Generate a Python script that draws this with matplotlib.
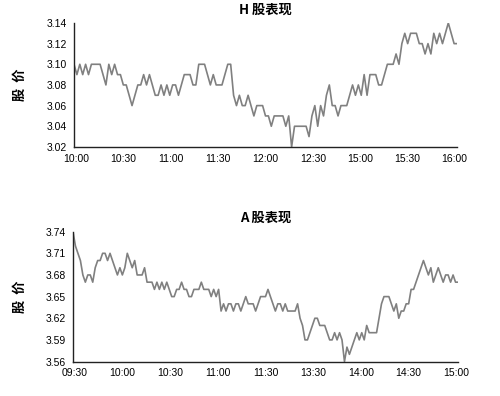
import numpy as np
import matplotlib
matplotlib.use('Agg')
import matplotlib.pyplot as plt

plt.rcParams['font.family'] = ['Liberation Sans', 'Noto Sans CJK SC', 'DejaVu Sans']

########################################################
# H shares (HKD)
h_price = [3.10, 3.09, 3.10, 3.09, 3.10, 3.09, 3.10, 3.10, 3.10, 3.10,
           3.09, 3.08, 3.10, 3.09, 3.10, 3.09, 3.09, 3.08, 3.08, 3.07,
           3.06, 3.07, 3.08, 3.08, 3.09, 3.08, 3.09, 3.08, 3.07, 3.07,
           3.08, 3.07, 3.08, 3.07, 3.08, 3.08, 3.07, 3.08, 3.09, 3.09,
           3.09, 3.08, 3.08, 3.10, 3.10, 3.10, 3.09, 3.08, 3.09, 3.08,
           3.08, 3.08, 3.09, 3.10, 3.10, 3.07, 3.06, 3.07, 3.06, 3.06,
           3.07, 3.06, 3.05, 3.06, 3.06, 3.06, 3.05, 3.05, 3.04, 3.05,
           3.05, 3.05, 3.05, 3.04, 3.05, 3.02, 3.04, 3.04, 3.04, 3.04,
           3.04, 3.03, 3.05, 3.06, 3.04, 3.06, 3.05, 3.07, 3.08, 3.06,
           3.06, 3.05, 3.06, 3.06, 3.06, 3.07, 3.08, 3.07, 3.08, 3.07,
           3.09, 3.07, 3.09, 3.09, 3.09, 3.08, 3.08, 3.09, 3.10, 3.10,
           3.10, 3.11, 3.10, 3.12, 3.13, 3.12, 3.13, 3.13, 3.13, 3.12,
           3.12, 3.11, 3.12, 3.11, 3.13, 3.12, 3.13, 3.12, 3.13, 3.14,
           3.13, 3.12, 3.12]
h_labels = ['10:00', '10:30', '11:00', '11:30', '12:00', '12:30', '15:00', '15:30', '16:00']
h_yticks = [3.02, 3.04, 3.06, 3.08, 3.10, 3.12, 3.14]

# A shares (CNY)
a_price = [3.74, 3.72, 3.71, 3.70, 3.68, 3.67, 3.68, 3.68, 3.67, 3.69,
           3.70, 3.70, 3.71, 3.71, 3.70, 3.71, 3.70, 3.69, 3.68, 3.69,
           3.68, 3.69, 3.71, 3.70, 3.69, 3.70, 3.68, 3.68, 3.68, 3.69,
           3.67, 3.67, 3.67, 3.66, 3.67, 3.66, 3.67, 3.66, 3.67, 3.66,
           3.65, 3.65, 3.66, 3.66, 3.67, 3.66, 3.66, 3.65, 3.65, 3.66,
           3.66, 3.66, 3.67, 3.66, 3.66,
           3.66, 3.65, 3.66, 3.65, 3.66, 3.63, 3.64, 3.63, 3.64, 3.64,
           3.63, 3.64, 3.64, 3.63, 3.64, 3.65, 3.64, 3.64, 3.64, 3.63,
           3.64, 3.65, 3.65, 3.65, 3.66, 3.65, 3.64, 3.63, 3.64, 3.64,
           3.63, 3.64, 3.63, 3.63, 3.63, 3.63, 3.64, 3.62, 3.61, 3.59,
           3.59, 3.60, 3.61, 3.62, 3.62, 3.61, 3.61, 3.61, 3.60, 3.59,
           3.59,
           3.60, 3.59, 3.60, 3.59, 3.56, 3.58, 3.57, 3.58, 3.59, 3.60,
           3.59, 3.60, 3.59, 3.61, 3.60, 3.60, 3.60, 3.60, 3.62, 3.64,
           3.65, 3.65, 3.65, 3.64, 3.63, 3.64, 3.62, 3.63, 3.63, 3.64,
           3.64, 3.66, 3.66, 3.67, 3.68, 3.69, 3.70, 3.69, 3.68, 3.69,
           3.67, 3.68, 3.69, 3.68, 3.67, 3.68, 3.68, 3.67, 3.68, 3.67,
           3.67]
a_labels = ['09:30', '10:00', '10:30', '11:00', '11:30', '13:30', '14:00', '14:30', '15:00']
a_yticks = [3.56, 3.59, 3.62, 3.65, 3.68, 3.71, 3.74]

########################################################
fig = plt.figure(figsize=(5, 3.96), dpi=100)
ax1 = fig.add_axes([0.148, 0.629, 0.766, 0.313])
ax2 = fig.add_axes([0.146, 0.087, 0.770, 0.328])

cjk = ['Noto Sans CJK SC', 'DejaVu Sans']


def draw(ax, price, labels, yticks, title):
    x = np.arange(len(price))
    ax.plot(x, price, color='#808080', lw=1.2)
    ax.set_xlim(0, len(price) - 1)
    ax.set_ylim(yticks[0], yticks[-1])
    ax.set_yticks(yticks)
    ax.set_yticklabels(['%.2f' % v for v in yticks])
    ax.set_xticks(np.linspace(0.8, len(price) - 1.8, len(labels)))
    ax.set_xticklabels(labels)
    ax.tick_params(length=0, labelsize=7.5, pad=5)
    for s in ['top', 'right']:
        ax.spines[s].set_visible(False)
    for s in ['left', 'bottom']:
        ax.spines[s].set_color('#222222')
        ax.spines[s].set_linewidth(1.0)
    ax.set_title(title, fontsize=9.5, fontweight='bold', family=cjk, pad=7)
    ax.set_ylabel('股  价', fontsize=9.5, fontweight='bold', family=cjk, labelpad=14)


draw(ax1, h_price, h_labels, h_yticks, 'H 股表现')
draw(ax2, a_price, a_labels, a_yticks, 'A 股表现')

fig.savefig('out.png', dpi=100)
